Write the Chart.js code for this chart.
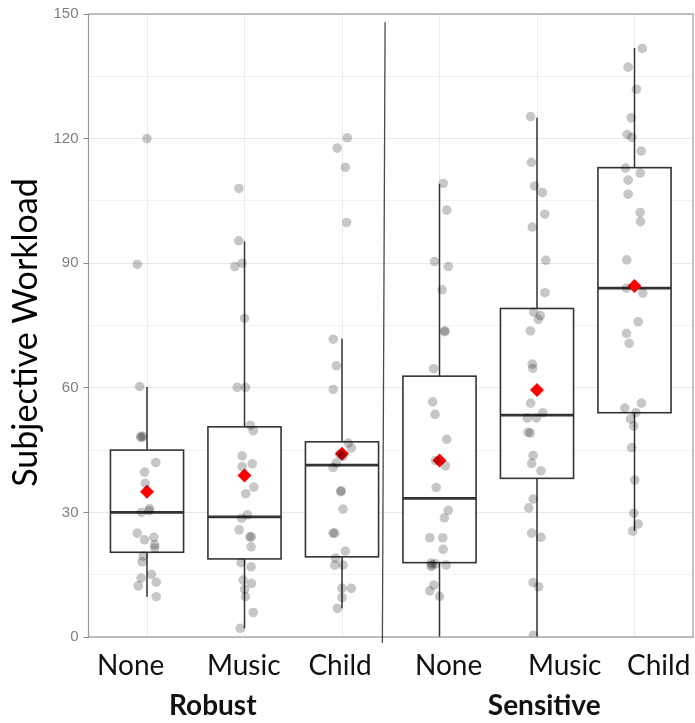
<!DOCTYPE html>
<html>
<head>
<meta charset="utf-8">
<script src="https://cdn.jsdelivr.net/npm/chart.js@4/dist/chart.umd.min.js"></script>
<style>
  html, body { margin: 0; padding: 0; background: #ffffff; }
  canvas { display: block; }
</style>
</head>
<body>
<canvas id="chart" width="695" height="723"></canvas>
<script>
// Conditions along the x axis and their groups
const categories = ['None', 'Music', 'Child', 'None', 'Music', 'Child'];
const groups = ['Robust', 'Sensitive'];
const yTickLabels = [0, 30, 60, 90, 120, 150];
const yGridValues = [0, 15, 30, 45, 60, 75, 90, 105, 120, 135, 150];

// Box summaries per condition
const boxMin    = [9.7, 2.1, 6.9, 0, 0, 25.6];
const boxQ1     = [20.4, 18.8, 19.3, 17.9, 38.2, 54];
const boxMedian = [30, 28.9, 41.4, 33.4, 53.4, 84];
const boxQ3     = [45, 50.6, 47, 62.8, 79.1, 113];
const boxMax    = [60.2, 95.2, 71.8, 109, 125, 141.8];
const means     = [35, 38.9, 44.1, 42.5, 59.5, 84.5];

// Individual workload scores and their horizontal jitter (in category units)
const robustNone = [120, 89.7, 60.3, 48.3, 48.3, 48, 42, 39.7, 37, 30.9, 30.4, 30, 25, 23.4, 24, 22.2, 21.4, 19.5, 18.1, 15.1, 14.2, 13.2, 12.3, 9.7];
const robustNoneJitter = [0, -0.10, -0.075, -0.065, -0.04, -0.06, 0.09, -0.025, -0.017, 0.027, 0.02, -0.058, -0.1, -0.025, 0.07, 0.079, 0.079, -0.04, -0.05, 0.045, -0.06, 0.095, -0.09, 0.095];

const robustMusic = [108, 95.4, 90, 89.2, 76.7, 60.1, 60.1, 51, 49.7, 43.6, 41.7, 41, 36.1, 34.5, 29.4, 28.6, 25.8, 24.1, 24.1, 21.7, 17.9, 16.9, 13.7, 12.9, 11.5, 9.7, 5.9, 2.1];
const robustMusicJitter = [-0.058, -0.058, -0.024, -0.1, 0, -0.075, 0.01, 0.06, 0.09, -0.024, 0.08, -0.024, 0.096, 0.014, 0.03, -0.03, -0.055, 0.055, 0.07, 0.068, -0.034, 0.068, -0.014, 0.072, 0, 0.01, 0.09, -0.044];

const robustChild = [120.2, 117.7, 113.1, 99.8, 71.7, 65.3, 59.6, 46.7, 45.5, 44, 43.5, 41.9, 40.8, 35.2, 35, 30.8, 25, 25, 20.7, 19, 17.3, 17.3, 11.7, 11.7, 9.5, 6.9];
const robustChildJitter = [0.055, -0.05, 0.034, 0.048, -0.09, -0.058, -0.09, 0.065, 0.096, -0.024, 0.01, -0.058, -0.092, -0.007, -0.014, 0.01, -0.092, -0.075, 0.034, -0.065, -0.075, 0.01, 0, 0.096, 0, -0.048];

const sensitiveNone = [109.2, 102.8, 90.4, 89.2, 83.6, 73.7, 73.5, 64.6, 56.6, 53.6, 47.6, 42.5, 41.2, 36, 30.5, 28.7, 23.9, 23.9, 21.1, 17.8, 17.3, 17.0, 17.6, 17.3, 12.5, 11.1, 9.8];
const sensitiveNoneJitter = [0.038, 0.075, -0.05, 0.09, 0.027, 0.058, 0.05, -0.06, -0.07, -0.045, 0.075, -0.04, 0.06, -0.034, 0.09, 0.05, -0.1, 0.034, 0.038, -0.085, -0.075, -0.085, -0.04, 0.068, -0.058, -0.1, 0];

const sensitiveMusic = [125.3, 114.3, 108.6, 107, 101.8, 98.7, 90.7, 82.9, 78.2, 77.4, 76.5, 73.7, 65.7, 64.7, 56.3, 54, 52.7, 52.7, 49.1, 49.3, 43.7, 41.8, 40, 33.2, 31.1, 25, 24, 13.1, 12.1, 0.4];
const sensitiveMusicJitter = [-0.065, -0.058, -0.024, 0.055, 0.08, -0.048, 0.09, 0.082, -0.034, 0.034, 0.014, -0.068, -0.048, -0.044, -0.065, 0.06, -0.1, -0.007, -0.068, -0.092, -0.04, -0.055, 0.04, -0.038, -0.085, -0.055, 0.04, -0.04, 0.017, -0.038];

const sensitiveChild = [141.7, 137.2, 131.9, 125, 121, 120.3, 117, 112.9, 111.7, 110, 106.6, 102.2, 100, 90.8, 84, 82.8, 75.9, 73.1, 70.7, 56.3, 55.1, 54, 52.5, 50.8, 45.6, 37.8, 29.8, 27.2, 25.5];
const sensitiveChildJitter = [0.08, -0.065, 0.02, -0.034, -0.075, -0.027, 0.068, -0.092, 0.058, -0.065, -0.065, 0.058, 0.062, -0.079, -0.082, 0.085, 0.038, -0.082, -0.055, 0.072, -0.1, 0.014, -0.04, -0.007, -0.03, 0.003, -0.007, 0.038, -0.02];

const scores  = [robustNone, robustMusic, robustChild, sensitiveNone, sensitiveMusic, sensitiveChild];
const jitters = [robustNoneJitter, robustMusicJitter, robustChildJitter, sensitiveNoneJitter, sensitiveMusicJitter, sensitiveChildJitter];

// Where the hand-placed axis captions sit, in x-axis units
const labelAnchors = [0.833, 1.992, 2.98, 4.094, 5.284, 6.248];
const groupAnchors = [1.675, 5.074];
const dividerAnchor = 3.43;

const pointData = [];
scores.forEach((vals, i) => {
  vals.forEach((v, j) => pointData.push({ x: i + 1 + jitters[i][j], y: v }));
});
const meanData = means.map((m, i) => ({ x: i + 1, y: m }));

const BOX_WIDTH = 0.75;
const INK = '#333333';
const PANEL_RIGHT = 693;

const boxPlugin = {
  id: 'boxes',
  afterLayout(chart) {
    // let the panel run almost to the canvas edge
    const area = chart.chartArea;
    const x = chart.scales.x;
    area.right = PANEL_RIGHT;
    area.width = area.right - area.left;
    x.right = PANEL_RIGHT;
    x.width = x.right - x.left;
    x.configure();
  },
  beforeDatasetsDraw(chart) {
    const { ctx, chartArea, scales: { x, y } } = chart;
    ctx.save();
    ctx.beginPath();
    ctx.rect(chartArea.left, chartArea.top, chartArea.width, chartArea.height);
    ctx.clip();
    categories.forEach((_, i) => {
      const cx = x.getPixelForValue(i + 1);
      const left = x.getPixelForValue(i + 1 - BOX_WIDTH / 2);
      const right = x.getPixelForValue(i + 1 + BOX_WIDTH / 2);
      const yMin = y.getPixelForValue(boxMin[i]);
      const yQ1 = y.getPixelForValue(boxQ1[i]);
      const yMed = y.getPixelForValue(boxMedian[i]);
      const yQ3 = y.getPixelForValue(boxQ3[i]);
      const yMax = y.getPixelForValue(boxMax[i]);
      // whiskers
      ctx.strokeStyle = INK;
      ctx.lineWidth = 1.5;
      ctx.beginPath();
      ctx.moveTo(cx, yQ3); ctx.lineTo(cx, yMax);
      ctx.moveTo(cx, yQ1); ctx.lineTo(cx, yMin);
      ctx.stroke();
      // box
      ctx.fillStyle = '#ffffff';
      ctx.fillRect(left, yQ3, right - left, yQ1 - yQ3);
      ctx.lineWidth = 1.6;
      ctx.strokeRect(left, yQ3, right - left, yQ1 - yQ3);
      // median
      ctx.lineWidth = 2.8;
      ctx.beginPath();
      ctx.moveTo(left, yMed); ctx.lineTo(right, yMed);
      ctx.stroke();
    });
    ctx.restore();
  },
  afterDraw(chart) {
    const { ctx, chartArea, scales: { x, y } } = chart;
    ctx.save();
    // panel border
    ctx.strokeStyle = '#9a9a9a';
    ctx.lineWidth = 1.2;
    ctx.strokeRect(chartArea.left, chartArea.top, chartArea.width, chartArea.height);

    // divider between the two groups
    ctx.strokeStyle = '#4a4a4a';
    ctx.lineWidth = 1.3;
    ctx.beginPath();
    ctx.moveTo(x.getPixelForValue(dividerAnchor + 0.012), y.getPixelForValue(148));
    ctx.lineTo(x.getPixelForValue(dividerAnchor - 0.016), chartArea.bottom + 6);
    ctx.stroke();

    // condition captions
    ctx.fillStyle = '#111111';
    ctx.textAlign = 'center';
    ctx.textBaseline = 'alphabetic';
    ctx.font = '28px Lato';
    categories.forEach((c, i) => {
      ctx.fillText(c, x.getPixelForValue(labelAnchors[i]), chartArea.bottom + 38);
    });
    // group captions
    ctx.font = 'bold 28px Lato';
    groups.forEach((g, i) => {
      ctx.fillText(g, x.getPixelForValue(groupAnchors[i]), chartArea.bottom + 78);
    });

    // y-axis title
    ctx.translate(37, (chartArea.top + chartArea.bottom) / 2 + 7);
    ctx.rotate(-Math.PI / 2);
    ctx.font = '34px Lato';
    ctx.fillStyle = '#000000';
    ctx.fillText('Subjective Workload', 0, 0);
    ctx.restore();
  }
};

new Chart(document.getElementById('chart'), {
  type: 'scatter',
  data: {
    datasets: [
      {
        data: pointData,
        pointRadius: 4.8,
        pointHoverRadius: 4.8,
        pointBorderWidth: 0,
        backgroundColor: 'rgba(0,0,0,0.22)',
        borderColor: 'rgba(0,0,0,0)',
        clip: 0
      },
      {
        data: meanData,
        pointStyle: 'rectRot',
        pointRadius: 7,
        pointHoverRadius: 7,
        pointBorderWidth: 0,
        backgroundColor: '#ff0000',
        borderColor: 'rgba(0,0,0,0)'
      }
    ]
  },
  options: {
    responsive: false,
    animation: false,
    events: [],
    layout: { padding: { left: 0, right: 2, top: 14, bottom: 86 } },
    plugins: { legend: { display: false }, tooltip: { enabled: false } },
    scales: {
      x: {
        type: 'linear',
        min: 0.4,
        max: 6.6,
        afterBuildTicks: (s) => { s.ticks = categories.map((_, i) => ({ value: i + 1 })); },
        ticks: { display: false },
        grid: { color: '#ebebeb', lineWidth: 1, drawTicks: false },
        border: { display: false }
      },
      y: {
        type: 'linear',
        min: 0,
        max: 150,
        afterBuildTicks: (s) => { s.ticks = yGridValues.map(v => ({ value: v })); },
        afterFit: (s) => { s.width = 88.5; },
        ticks: {
          callback: (v) => yTickLabels.includes(v) ? String(v) : '',
          color: '#7f7f7f',
          font: { family: 'Liberation Sans', size: 15 },
          padding: 5
        },
        grid: {
          color: (c) => (c.tick && yTickLabels.includes(c.tick.value)) ? '#e8e8e8' : '#f1f1f1',
          tickColor: (c) => (c.tick && yTickLabels.includes(c.tick.value)) ? '#8a8a8a' : 'rgba(0,0,0,0)',
          tickLength: 5,
          lineWidth: 1
        },
        border: { display: false }
      }
    }
  },
  plugins: [boxPlugin]
});
</script>
</body>
</html>
